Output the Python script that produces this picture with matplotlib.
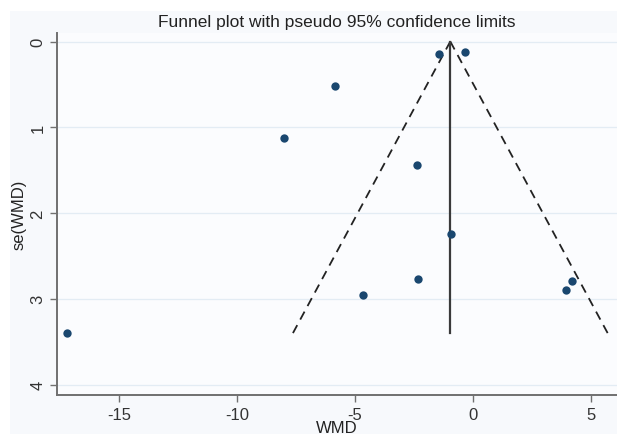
import numpy as np
import matplotlib.pyplot as plt
from matplotlib.patches import Rectangle

plt.rcParams['font.family'] = ['Liberation Sans', 'DejaVu Sans']
plt.rcParams['axes.unicode_minus'] = False

# study estimates (weighted mean difference) and their standard errors
wmd = [-1.43, -0.33, -5.85, -8.01, -2.35, -0.92, -2.32, -4.66, 3.92, 4.18, -17.2]
se_wmd = [0.15, 0.12, 0.52, 1.13, 1.44, 2.25, 2.77, 2.96, 2.90, 2.79, 3.40]
pooled = -0.96
se_max = 3.40
xticks = [-15, -10, -5, 0, 5]
yticks = [0, 1, 2, 3, 4]

fig = plt.figure(figsize=(6.17, 4.35), dpi=100)
fig.patch.set_facecolor('white')
bg = Rectangle((10 / 617, 0), 1, 1 - 12 / 435, transform=fig.transFigure,
               facecolor='#f7f9fc', edgecolor='none', zorder=-10)
fig.add_artist(bg)
ax = fig.add_axes([0.093, 0.090, 0.907, 0.832])
ax.set_zorder(1)
ax.set_facecolor('#fbfcfe')

for t in yticks:
    ax.axhline(t, color='#e3ecf4', lw=0.9, zorder=1)

# pseudo 95% confidence limits
se_line = np.array([0, se_max])
ax.plot(pooled - 1.96 * se_line, se_line, color='#222222', lw=1.3, ls=(0, (5, 3.5)), zorder=2)
ax.plot(pooled + 1.96 * se_line, se_line, color='#222222', lw=1.3, ls=(0, (5, 3.5)), zorder=2)
ax.plot([pooled, pooled], se_line, color='#3a3a3a', lw=1.6, zorder=2)

ax.scatter(wmd, se_wmd, s=36, color='#1a476f', zorder=3, linewidths=0)

ax.set_xlim(-17.6, 6.1)
ax.set_ylim(4.12, -0.1)
ax.set_xticks(xticks)
ax.set_yticks(yticks)
ax.tick_params(axis='both', direction='out', length=5, width=1, color='#707070',
               labelsize=12, labelcolor='#333333')
for lab in ax.get_yticklabels():
    lab.set_rotation(90)
    lab.set_va('center')
for side in ['top', 'right']:
    ax.spines[side].set_visible(False)
for side in ['left', 'bottom']:
    ax.spines[side].set_color('#707070')
    ax.spines[side].set_linewidth(1.4)

ax.set_xlabel('WMD', fontsize=12, color='#222222', labelpad=-1)
ax.set_ylabel('se(WMD)', fontsize=12, color='#222222', labelpad=3)
ax.set_title('Funnel plot with pseudo 95% confidence limits', fontsize=12.5,
             color='#222222', pad=5)

fig.savefig('out.png', dpi=100, facecolor=fig.get_facecolor())
